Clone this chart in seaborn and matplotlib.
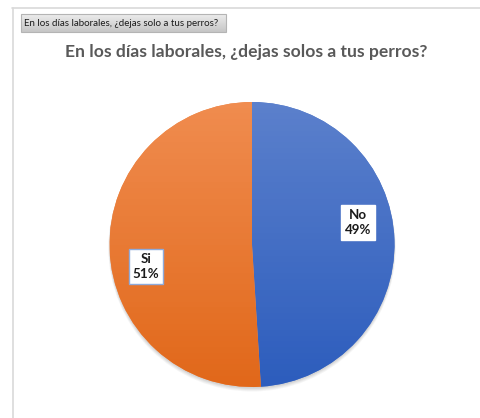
import numpy as np
import matplotlib
matplotlib.use("Agg")
import matplotlib.pyplot as plt
from matplotlib.patches import Rectangle, Circle
from matplotlib.colors import LinearSegmentedColormap
import seaborn as sns

# Survey answers
categories = ["No", "Si"]
shares = [49, 51]
title = "En los días laborales, ¿dejas solos a tus perros?"
tab_label = "En los días laborales, ¿dejas solo a tus perros?"

# Slice colours: light at the top, deeper at the bottom
top_colors = ["#5b80cc", "#f08c4f"]
bottom_colors = ["#2d5dbd", "#e1681a"]

sns.set_style("white")
plt.rcParams["font.family"] = ["Lato", "DejaVu Sans"]

W, H = 480, 418
fig = plt.figure(figsize=(W / 100, H / 100), dpi=100)
ax = fig.add_axes([0, 0, 1, 1])

cx, cy, r = 252, H - 244.5, 142.5

wedges, _ = ax.pie(shares, center=(cx, cy), radius=r, startangle=90, counterclock=False,
                   colors=top_colors, wedgeprops=dict(linewidth=0))
for w in wedges:
    w.set_zorder(5)

# Chart frame (top and left edges of the chart area)
ax.plot([12, W], [H - 7.5, H - 7.5], color="#d9d9d9", lw=1.2, zorder=1)
ax.plot([12.5, 12.5], [0, H - 7.5], color="#d9d9d9", lw=1.2, zorder=1)

# Sheet tab style label
tab = Rectangle((21, H - 32), 205, 18, facecolor="none", edgecolor="#b4b4b4", lw=0.8, zorder=3)
ax.add_patch(tab)
grad = np.linspace(0, 1, 50).reshape(-1, 1)
tab_cmap = LinearSegmentedColormap.from_list("tab", ["#c6c6c6", "#ececec"])
im = ax.imshow(grad, extent=(21, 226, H - 32, H - 14), cmap=tab_cmap, origin="lower",
               aspect="auto", zorder=2)
im.set_clip_path(tab)
ax.text(24, H - 23, tab_label, fontsize=7.0, color="#1a1a1a", va="center", ha="left", zorder=4)

# Title
ax.text(246, H - 52, title, fontsize=12.6, fontweight="bold", color="#595959",
        ha="center", va="center", zorder=4)

# Soft drop shadow under the pie
for k, a in enumerate([0.05, 0.05, 0.06, 0.07]):
    ax.add_patch(Circle((cx, cy - 1.5 - 0.6 * (3 - k)), r + 1.2 - 0.4 * k,
                        facecolor="#404040", edgecolor="none", alpha=a, zorder=4))

# Vertical gradient fill clipped to each slice
for w, c0, c1 in zip(wedges, top_colors, bottom_colors):
    cmap = LinearSegmentedColormap.from_list("g", [c1, c0])
    gim = ax.imshow(grad, extent=(cx - r, cx + r, cy - r, cy + r), cmap=cmap,
                    origin="lower", aspect="auto", zorder=6)
    gim.set_clip_path(w)

# Data labels with category and percentage
edge_colors = ["#ffffff", "#8eaadb"]
for w, cat, val, ec in zip(wedges, categories, shares, edge_colors):
    mid = np.deg2rad((w.theta1 + w.theta2) / 2 + 10)
    d = 0.76 * r
    x, y = cx + d * np.cos(mid), cy + d * np.sin(mid)
    ax.text(x, y, f"{cat}\n{val}%", fontsize=9.6, fontweight="bold", color="#1a1a1a",
            ha="center", va="center", linespacing=1.3, zorder=8,
            bbox=dict(boxstyle="square,pad=0.3", facecolor="white", edgecolor=ec, lw=1))

ax.set_xlim(0, W)
ax.set_ylim(0, H)
ax.set_aspect("equal")
ax.axis("off")

fig.savefig("out.png", dpi=100, facecolor="white")
